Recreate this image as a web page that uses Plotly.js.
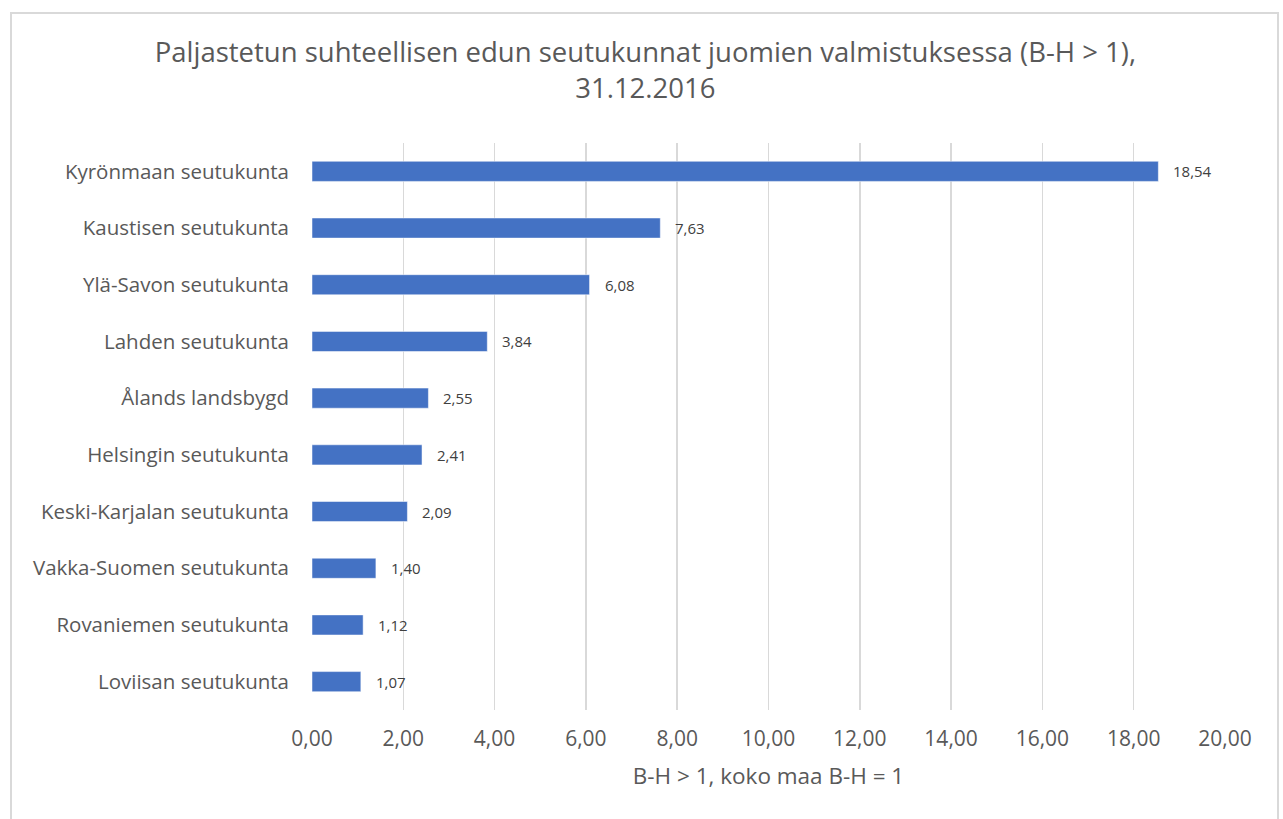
<!DOCTYPE html>
<html>
<head>
<meta charset="utf-8">
<script src="https://cdn.plot.ly/plotly-3.0.1.min.js"></script>
<style>
  body { margin: 0; background: #fff; }
  #chart { position: absolute; left: 0; top: 0; width: 1283px; height: 819px; }
  #frame { position: absolute; left: 10px; top: 12px; width: 1269px; height: 830px;
           border: 2px solid #d9d9d9; pointer-events: none; z-index: 10; box-sizing: border-box; }
</style>
</head>
<body>
<div id="chart"></div>
<div id="frame"></div>
<script>
// regions, top to bottom as shown
const regions = [
  'Kyrönmaan seutukunta',
  'Kaustisen seutukunta',
  'Ylä-Savon seutukunta',
  'Lahden seutukunta',
  'Ålands landsbygd',
  'Helsingin seutukunta',
  'Keski-Karjalan seutukunta',
  'Vakka-Suomen seutukunta',
  'Rovaniemen seutukunta',
  'Loviisan seutukunta'
];
const bhValues = [18.54, 7.63, 6.08, 3.84, 2.55, 2.41, 2.09, 1.40, 1.12, 1.07];
const xTicks = [0, 2, 4, 6, 8, 10, 12, 14, 16, 18, 20];

const fmt = v => v.toFixed(2).replace('.', ',');

const trace = {
  type: 'bar',
  orientation: 'h',
  y: regions,
  x: bhValues,
  marker: { color: '#4472c4', line: { color: '#ffffff', width: 0.5 } },
  hoverinfo: 'x+y'
};

const labels = bhValues.map((v, i) => ({
  x: v,
  y: regions[i],
  text: fmt(v),
  showarrow: false,
  xanchor: 'left',
  xshift: 13,
  font: { size: 15, color: '#404040' }
}));

const layout = {
  width: 1283,
  height: 819,
  font: { family: 'Open Sans, Noto Sans, sans-serif', color: '#595959' },
  title: {
    text: 'Paljastetun suhteellisen edun seutukunnat juomien valmistuksessa (B-H > 1),<br>31.12.2016',
    x: 0.503,
    xanchor: 'center',
    yref: 'container',
    y: 1 - 62 / 819,
    yanchor: 'top',
    font: { size: 27.5, color: '#595959' }
  },
  margin: { l: 312, r: 58, t: 143, b: 109 },
  bargap: 0.645,
  showlegend: false,
  paper_bgcolor: 'rgba(0,0,0,0)',
  plot_bgcolor: '#ffffff',
  xaxis: {
    range: [0, 20],
    tickvals: xTicks,
    ticktext: xTicks.map(fmt),
    showgrid: true,
    gridcolor: '#d9d9d9',
    gridwidth: 1.5,
    zeroline: false,
    showline: false,
    ticks: '',
    ticklabelstandoff: 14,
    tickfont: { size: 21, color: '#595959' },
    title: { text: 'B-H > 1, koko maa B-H = 1', standoff: 17, font: { size: 22.5, color: '#595959' } }
  },
  yaxis: {
    autorange: 'reversed',
    showgrid: false,
    showline: false,
    zeroline: false,
    ticks: '',
    ticklabelstandoff: 22,
    tickfont: { size: 20.5, color: '#595959' }
  },
  annotations: labels
};

Plotly.newPlot('chart', [trace], layout, { displayModeBar: false, staticPlot: true });
</script>
</body>
</html>
